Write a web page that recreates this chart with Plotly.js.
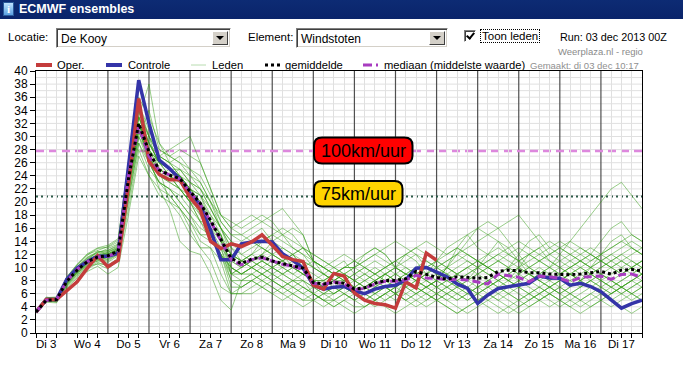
<!DOCTYPE html>
<html><head><meta charset="utf-8">
<script src="https://cdn.plot.ly/plotly-3.0.1.min.js"></script>
<style>
html,body{margin:0;padding:0;background:#fff;width:683px;height:367px;overflow:hidden;font-family:"Liberation Sans",Arial,sans-serif;}
#chart{position:absolute;left:0;top:0;width:683px;height:367px;z-index:1;}
#hdr{position:absolute;left:0;top:0;width:683px;height:60px;z-index:2;}
#bar{position:absolute;left:0;top:0;width:683px;height:19px;background:linear-gradient(to bottom,#0d2b74,#0a246a);}
#bar .ico{position:absolute;left:3px;top:2px;width:11px;height:14px;background:linear-gradient(#bfe3ff,#5aa0e0);border:1px solid #2a5a9a;box-sizing:border-box;color:#fff;font:bold 11px "Liberation Serif",serif;text-align:center;line-height:13px;}
#bar .tt{position:absolute;left:19px;top:2px;color:#fff;font:bold 12.5px "Liberation Sans",Arial,sans-serif;}
.ui{position:absolute;font-size:11px;color:#000;white-space:nowrap;font-family:"Liberation Sans",Arial,sans-serif;}
.dd{position:absolute;box-sizing:border-box;height:20px;border:1px solid;border-color:#808080 #fff #fff #808080;background:#fff;box-shadow:inset 1px 1px 0 #404040,inset -1px -1px 0 #d4d0c8;}
.dd span{position:absolute;left:4px;top:3px;font-size:12px;font-family:"Liberation Sans",Arial,sans-serif;}
.btn{position:absolute;right:2px;top:2px;width:16px;height:14px;background:#d4d0c8;border:1px solid;border-color:#fff #404040 #404040 #fff;box-sizing:border-box;}
.btn:after{content:"";position:absolute;left:3px;top:4px;border-left:4px solid transparent;border-right:4px solid transparent;border-top:4px solid #000;}
.cb{position:absolute;left:464px;top:30px;width:12px;height:12px;box-sizing:border-box;background:#fff;border:1px solid;border-color:#808080 #fff #fff #808080;box-shadow:inset 1px 1px 0 #404040;}
.cb:after{content:"";position:absolute;left:3px;top:0px;width:3px;height:6px;border:solid #000;border-width:0 2px 2px 0;transform:rotate(40deg);}
</style>
</head><body>
<div id="chart"></div>
<div id="hdr">
  <div id="bar"><div class="ico">i</div><div class="tt">ECMWF ensembles</div></div>
  <div class="ui" style="left:8px;top:31px;font-size:11.5px;">Locatie:</div>
  <div class="dd" style="left:56px;top:28px;width:175px;"><span>De Kooy</span><div class="btn"></div></div>
  <div class="ui" style="left:248px;top:31px;font-size:11.5px;">Element:</div>
  <div class="dd" style="left:296px;top:28px;width:152px;"><span>Windstoten</span><div class="btn"></div></div>
  <div class="cb"></div>
  <div class="ui" style="left:480px;top:29px;border:1px dotted #000;padding:0 1px;font-size:11.5px;">Toon leden</div>
  <div class="ui" style="left:560px;top:31px;font-size:10.8px;">Run: 03 dec 2013 00Z</div>
  <div class="ui" style="left:558px;top:46px;font-size:9.5px;color:#8a8a8a;">Weerplaza.nl - regio</div>
</div>
<script>
// ---- data ----
const hours = [6,12,18,24,30,36,42,48,54,60,66,72,78,84,90,96,102,108,114,120,126,132,138,144,150,156,162,168,174,180,186,192,198,204,210,216,222,228,234,240,246,252,258,264,270,276,282,288,294,300,306,312,318,324,330,336,342,348,354,360];
const dayTickHours = [12,36,60,84,108,132,156,180,204,228,252,276,300,324,348];
const dayLabels = ["Di 3","Wo 4","Do 5","Vr 6","Za 7","Zo 8","Ma 9","Di 10","Wo 11","Do 12","Vr 13","Za 14","Zo 15","Ma 16","Di 17"];
const dayBoundaryHours = [24,48,72,96,120,144,168,192,216,240,264,288,312,336];
const yGridValues = [1,2,3,4,5,6,7,8,9,10,11,12,13,14,15,16,17,18,19,20,21,22,23,24,25,26,27,28,29,30,31,32,33,34,35,36,37,38,39];
const threshold100 = 27.78; // 100 km/uur in m/s
const threshold75 = 20.83;  // 75 km/uur in m/s

const oper = [3.2,5.1,5.1,6.4,7.8,9.9,11.8,10.1,11.1,22.5,35.8,26.2,24.2,23.4,23.4,20.7,18.8,14.0,12.9,13.6,13.2,13.9,15.0,13.4,11.7,11.2,10.9,7.3,6.7,9.1,8.7,6.1,5.0,4.5,4.3,3.8,7.8,6.9,12.2,11.1];
const controle = [3.2,5.1,5.1,8.2,9.9,10.9,11.7,11.7,12.2,25.0,38.6,32.0,26.4,25.1,23.5,21.3,19.5,15.7,11.2,11.2,13.6,13.9,14.0,13.9,12.1,11.1,9.9,7.3,6.7,7.0,7.1,6.4,6.0,6.7,7.1,7.3,8.1,9.9,10.0,9.3,8.6,7.5,6.8,4.5,5.8,6.8,7.1,7.3,7.6,8.7,8.4,8.35,7.3,7.6,7.1,6.3,5.0,3.8,4.5,5.0];
const gemiddelde = [3.2,5.0,5.1,7.9,9.6,10.9,11.6,11.8,12.5,23.5,32.0,27.7,24.9,24.1,23.6,21.6,19.8,17.2,14.3,11.4,10.6,11.3,11.6,11.0,10.6,10.3,9.9,7.7,7.5,7.7,7.6,6.7,6.9,7.6,8.0,8.0,8.3,9.4,8.9,8.5,8.2,8.6,8.5,8.35,8.5,9.4,9.6,9.5,9.2,9.2,9.0,8.9,8.9,9.0,9.2,9.4,9.0,9.6,9.7,9.5];
const mediaan = [3.2,5.0,5.1,7.9,9.7,10.9,11.6,11.7,12.4,24.0,31.5,27.0,24.8,24.2,23.5,21.5,19.6,17.0,14.0,11.2,10.4,11.2,11.5,11.0,10.5,10.2,9.7,7.6,7.4,7.8,7.5,6.6,6.8,7.5,7.9,7.9,8.1,8.8,8.4,8.35,8.1,8.2,8.1,7.8,7.5,9.0,8.75,8.5,7.8,8.7,8.6,8.35,7.8,8.5,8.6,8.7,8.2,8.95,9.0,8.5];

const leden01 = [3.2,5.2,5.0,7.5,9.2,10.5,11.0,11.6,12.8,24,33,29,26,25,24,22,20,18,15,12,11,12,13,12,11,10,9,8,7,8,9,8,7,6,7,8,9,10,11,10,9,8,9,10,11,12,11,10,9,8,9,10,11,12,13,12,11,10,9,10];
const leden02 = [3.3,4.8,5.3,8.2,10.1,11.4,12.2,12.9,13.6,22,30,27,24,23,22,20,19,16,15,10,9,10,11,10,9,8,8,7,6,6,7,6,5,6,7,6,8,9,8,7,6,5,6,7,8,7,6,5,4,5,6,7,8,9,8,7,6,7,8,9];
const leden03 = [3.1,5.4,5.5,8.5,10.5,12.0,12.6,13.2,14.2,26,35,31,27,26,27,25,23,20,17,15,14,15,16,14,13,12,10,8,8,9,10,10,9,8,9,10,11,12,10,9,8,7,8,10,12,14,13,11,9,8,7,6,7,8,10,12,14,15,13,12];
const leden04 = [3.2,5.0,4.8,7.2,8.8,10.0,10.8,10.2,11.5,20,29,25,23,22,20,18,15,14,12,7,7,8,9,8,7,6,5,5,4,5,6,5,4,5,6,7,6,5,4,5,6,7,6,5,4,3,4,5,6,7,6,5,4,5,6,7,8,7,6,5];
const leden05 = [3.4,5.1,5.2,8.0,9.8,11.2,12.5,12.0,13.0,25,34,30,25,24,25,23,21,19,16,13,12,13,14,15,14,13,12,11,10,9,10,11,12,13,12,10,9,8,9,11,13,14,15,13,12,11,10,9,10,11,12,13,12,11,10,11,12,13,14,13];
const leden06 = [3.0,4.7,4.6,6.9,8.4,9.4,10.2,9.0,10.0,18,27,24,22,21,19,17,14,13,9,6,6,7,8,7,6,7,8,6,5,4,5,4,4,5,6,5,6,7,6,5,4,3,4,5,6,7,8,7,6,5,6,7,6,5,6,5,4,5,6,7];
const leden07 = [3.2,5.0,5.1,7.8,9.5,10.8,11.5,11.9,12.4,23,32,28,25,24,23,21,19,17,14,11,10,11,12,13,12,10,9,8,9,10,11,9,8,7,9,10,12,11,9,8,10,11,12,11,10,9,8,10,12,13,11,10,9,8,9,10,11,12,11,10];
const leden08 = [3.3,5.3,5.4,8.4,10.3,11.9,12.9,13.1,13.9,26,36,33,29,27,28,27,26,22,18,16,17,18,17,16,15,13,12,10,9,8,9,8,7,8,9,8,7,6,7,8,10,12,14,16,17,16,14,12,10,9,8,9,10,11,12,14,16,17,15,14];
const leden09 = [3.1,4.9,4.9,7.6,9.2,10.6,11.2,11.0,12.0,23,31,27,24,25,24,22,20,17,15,10,9,9,10,11,10,9,8,7,6,7,8,7,6,5,6,7,8,9,10,9,8,9,10,11,10,9,10,11,12,11,10,9,8,7,8,9,10,11,10,9];
const leden10 = [3.2,5.1,5.2,7.9,9.9,11.0,11.8,12.4,12.9,24,32,28,26,24,22,21,18,16,14,9,10,11,10,9,8,7,6,5,6,7,6,5,6,7,8,9,8,7,8,9,10,9,8,7,6,5,6,7,8,9,8,7,6,5,4,5,6,7,8,9];
const leden11 = [3.2,5.2,5.3,8.1,9.9,11.3,11.9,12.3,13.2,25,33,30,27,26,25,24,22,19,16,14,13,14,13,12,11,12,13,11,10,9,8,9,10,11,10,9,8,7,6,7,8,7,6,7,8,9,10,12,14,15,13,12,11,10,11,12,13,14,15,14];
const leden12 = [3.3,5.0,5.0,7.7,9.6,10.7,11.4,11.5,12.2,22,31,26,23,22,21,19,17,17,15,9,8,9,8,9,10,11,10,8,7,6,7,6,7,8,7,6,5,6,7,8,7,6,5,6,7,8,9,8,7,6,5,4,5,6,7,8,7,6,5,6];
const leden13 = [3.1,4.8,5.0,7.4,9.1,10.4,11.3,11.8,12.6,21,30,34,28,27,26,24,23,20,16,13,11,10,11,12,13,12,10,9,8,9,10,11,10,9,8,7,8,9,10,11,12,13,12,11,10,9,8,7,8,9,10,11,12,13,12,11,10,9,10,11];
const leden14 = [3.2,5.1,5.0,7.9,9.6,10.9,11.6,11.7,12.5,24,32,27,25,20,19,16,13,11,7,6,7,8,7,6,5,6,7,6,5,4,5,6,7,8,9,10,9,8,7,6,5,4,3,4,5,6,5,4,5,6,7,8,9,8,7,6,5,6,7,8];
const leden15 = [3.2,5.2,5.1,8.0,9.8,11.1,11.6,12.1,12.7,24,33,38,29,26,24,22,21,18,16,14,12,11,12,14,15,16,15,11,9,8,9,10,12,13,12,10,9,8,7,8,10,13,15,16,15,14,12,11,10,9,10,12,14,16,18,20,22,23,21,19];
const leden16 = [3.1,5.0,4.7,7.3,8.9,10.2,10.5,9.8,11.0,19,28,24,21,20,18,15,13,13,11,6,6,6,7,8,7,6,5,6,7,8,7,6,5,4,5,6,7,6,5,6,7,8,7,6,5,4,3,4,5,6,7,6,5,4,5,6,5,4,3,4];
const leden17 = [3.3,5.1,5.3,8.3,10.0,11.6,12.4,12.6,13.5,25,34,30,27,28,29,30,26,22,18,17,16,17,18,17,15,14,13,12,11,10,9,10,11,12,13,14,13,12,11,10,9,8,9,10,11,12,13,14,13,12,11,10,9,8,9,10,11,12,13,12];
const leden18 = [3.2,4.9,5.2,7.7,9.4,10.6,11.4,11.2,12.0,23,31,27,24,23,22,20,18,15,12,10,9,10,9,8,9,10,9,8,7,8,9,8,9,10,9,8,9,10,9,8,9,10,11,10,9,8,7,8,9,10,9,8,9,10,9,8,9,10,11,10];
const leden19 = [3.2,5.0,5.1,7.8,9.4,10.8,11.2,11.9,12.4,23,32,27,22,19,14,12.5,12,9,5,3.5,8,9,8,7,6,5,4,5,6,5,4,3,4,5,4,3,4,5,6,5,4,3,4,5,6,5,4,3,4,5,6,5,4,3,4,5,6,7,6,5];
const leden20 = [3.2,5.1,5.0,7.8,9.7,10.8,11.6,11.9,12.6,24,32,28,25,24,23,21,19,16,13,11,10,11,12,11,10,9,10,11,10,9,8,7,8,9,10,11,12,13,12,11,10,9,8,9,10,11,12,13,12,11,10,9,10,11,12,11,10,9,10,11];
const leden21 = [3.4,5.5,5.2,8.6,10.4,12.1,13.0,13.4,14.4,26,35,30,28,27,26,25,24,21,17,15,15,16,17,18,19,17,15,11,10,11,12,11,10,9,10,11,12,13,14,13,12,13,12,11,10,9,8,9,10,11,12,13,14,13,12,11,10,11,12,13];
const leden22 = [3.1,4.9,4.8,7.1,8.6,9.8,10.6,10.4,11.3,20,29,26,23,21,19,17,15,15,12,8,8,8,9,10,9,8,7,6,5,5,6,7,6,5,6,7,8,7,6,5,6,7,8,9,10,11,10,9,8,7,6,5,6,7,8,9,8,7,6,7];
const leden23 = [3.2,5.0,5.0,7.6,9.3,10.7,11.4,11.3,12.1,22,31,27,25,24,22,20,17,14,13,9,9,10,11,10,9,10,11,10,9,8,7,6,7,6,5,6,7,8,9,10,11,12,11,10,9,8,7,6,5,6,7,8,9,10,9,8,7,6,7,8];
const leden24 = [3.2,5.2,5.1,8.0,9.7,11.0,11.9,12.0,12.9,24,33,28,26,25,25,23,22,19,16,12,11,12,11,10,11,12,11,10,9,8,8,9,10,9,8,7,8,9,10,11,10,9,10,11,12,13,12,11,12,13,14,13,12,11,10,9,8,9,10,9];
const leden25 = [3.3,5.0,5.2,7.9,9.6,11.0,11.7,12.2,12.6,24,32,29,26,25,23,21,19,15,12,10,9,10,9,8,7,8,9,8,7,6,7,8,9,8,7,6,5,4,5,6,7,8,7,6,7,8,9,10,9,8,7,6,7,8,9,8,7,8,9,10];
const leden26 = [3.1,4.9,5.0,7.7,9.4,10.7,11.3,11.6,12.3,23,31,27,24,24,24,22,20,17,14,12,11,12,14,15,16,15,13,11,10,9,8,7,8,9,10,11,10,9,8,7,8,9,10,9,8,7,6,5,6,7,8,9,10,11,10,9,8,7,8,9];
const leden27 = [3.2,5.1,5.3,8.1,9.9,11.1,12.0,12.5,13.0,25,33,29,27,26,24,22,21,17,14,12,11,10,9,10,11,12,13,12,11,10,9,8,7,8,9,8,7,8,9,10,11,12,13,14,15,16,17,18,16,14,12,11,10,9,10,11,12,11,10,11];
const leden28 = [3.2,5.0,4.9,7.5,9.1,10.3,11.0,10.8,11.8,21,30,26,23,22,20,18,16,15,13,8,7,8,7,6,7,8,7,6,5,6,7,6,5,6,7,6,5,6,7,8,7,6,7,8,7,6,7,8,9,8,7,8,9,8,7,6,7,8,9,8];
const leden29 = [3.3,5.3,5.4,8.3,10.1,11.5,12.3,12.6,13.3,25,34,29,26,25,24,23,22,20,18,16,15,14,13,12,11,10,9,8,8,9,10,10,11,12,11,10,9,8,7,6,5,6,5,6,7,8,9,10,11,12,13,14,13,12,11,12,13,14,13,12];
const leden30 = [3.2,5.1,5.2,7.9,9.6,10.9,11.5,11.8,12.5,23,32,29,26,24,22,20,17,15,12,9,10,11,10,9,8,7,6,7,8,7,6,5,6,7,8,9,10,9,8,7,6,5,6,7,8,9,8,7,6,5,4,5,6,7,8,7,6,7,8,7];
const leden = [leden01,leden02,leden03,leden04,leden05,leden06,leden07,leden08,leden09,leden10,leden11,leden12,leden13,leden14,leden15,leden16,leden17,leden18,leden19,leden20,leden21,leden22,leden23,leden24,leden25,leden26,leden27,leden28,leden29,leden30];

// ---- style ----
const C = {oper:'#c43c3c', ctrl:'#3434a8', leden:'rgba(50,155,20,0.5)', mean:'#000000', med:'#a83cc0', t100:'#dd88dd', t75:'#2c5a48', grid:'#e0e0e0'};
const FONT = '"Liberation Sans",Arial,sans-serif';
const PL=36, PR=642, PT=71, PB=333;
const px = v => (v-PL)/(PR-PL);
const py = v => (PB-v)/(PB-PT);
// 6-hourly light grid positions that are not day boundaries
const sixHourGrid = hours.filter(h => dayBoundaryHours.indexOf(h) < 0);

const traces = [];
leden.forEach(m => traces.push({x:hours.slice(0,m.length), y:m, type:'scatter', mode:'lines', line:{color:C.leden, width:1}, hoverinfo:'skip', showlegend:false}));
traces.push({x:hours.slice(0,controle.length), y:controle, type:'scatter', mode:'lines', name:'Controle', line:{color:C.ctrl, width:3.5}});
traces.push({x:hours.slice(0,oper.length), y:oper, type:'scatter', mode:'lines', name:'Oper.', line:{color:C.oper, width:3.5}});
traces.push({x:hours, y:mediaan, type:'scatter', mode:'lines', name:'mediaan (middelste waarde)', line:{color:C.med, width:3, dash:'8px,4px'}});
traces.push({x:hours, y:gemiddelde, type:'scatter', mode:'lines', name:'gemiddelde', line:{color:C.mean, width:3, dash:'3px,3px'}});

function rrect(x0,y0,x1,y1,r){
  const P=(x,y)=>px(x)+','+py(y);
  return 'M'+P(x0+r,y0)+' L'+P(x1-r,y0)+' Q'+P(x1,y0)+' '+P(x1,y0+r)+' L'+P(x1,y1-r)+' Q'+P(x1,y1)+' '+P(x1-r,y1)+
         ' L'+P(x0+r,y1)+' Q'+P(x0,y1)+' '+P(x0,y1-r)+' L'+P(x0,y0+r)+' Q'+P(x0,y0)+' '+P(x0+r,y0)+' Z';
}

const shapes = [];
yGridValues.forEach(v => shapes.push({type:'line', xref:'paper', yref:'y', x0:0, x1:1, y0:v, y1:v, line:{color:C.grid, width:1}, layer:'below'}));
dayBoundaryHours.forEach(h => shapes.push({type:'line', xref:'x', yref:'paper', x0:h, x1:h, y0:0, y1:1, line:{color:'#505050', width:1.2}, layer:'below'}));
shapes.push({type:'line', xref:'paper', yref:'y', x0:0, x1:1, y0:threshold100, y1:threshold100, line:{color:C.t100, width:2.5, dash:'8px,5px'}, layer:'below'});
shapes.push({type:'line', xref:'paper', yref:'y', x0:0, x1:1, y0:threshold75, y1:threshold75, line:{color:C.t75, width:2, dash:'2px,3px'}, layer:'below'});
shapes.push({type:'path', xref:'paper', yref:'paper', path:rrect(314,137.5,412.5,163.5,8), fillcolor:'#ff0000', line:{color:'#000', width:2}, layer:'above'});
shapes.push({type:'path', xref:'paper', yref:'paper', path:rrect(314,181,402.5,206.5,8), fillcolor:'#ffd400', line:{color:'#000', width:2}, layer:'above'});
// legend swatches
const LY = py(65);
shapes.push({type:'line', xref:'paper', yref:'paper', x0:px(36), x1:px(52), y0:LY, y1:LY, line:{color:C.oper, width:4}});
shapes.push({type:'line', xref:'paper', yref:'paper', x0:px(106), x1:px(122), y0:LY, y1:LY, line:{color:C.ctrl, width:4}});
shapes.push({type:'line', xref:'paper', yref:'paper', x0:px(191), x1:px(206), y0:LY, y1:LY, line:{color:'#b8dcb0', width:1}});
shapes.push({type:'line', xref:'paper', yref:'paper', x0:px(265), x1:px(280), y0:LY, y1:LY, line:{color:C.mean, width:3, dash:'3px,3px'}});
shapes.push({type:'line', xref:'paper', yref:'paper', x0:px(363), x1:px(379), y0:LY, y1:LY, line:{color:C.med, width:3, dash:'9px,4px,2px,4px'}});

const ann = [];
const legItems = [['Oper.',55],['Controle',126],['Leden',210],['gemiddelde',283],['mediaan (middelste waarde)',382]];
legItems.forEach(([t,x]) => ann.push({xref:'paper', yref:'paper', x:px(x), y:LY, text:t, showarrow:false, xanchor:'left', yanchor:'middle', font:{family:FONT, size:11.2, color:'#000'}}));
ann.push({xref:'paper', yref:'paper', x:px(641), y:LY, text:'Gemaakt: di 03 dec 10:17', showarrow:false, xanchor:'right', yanchor:'middle', font:{family:FONT, size:9.5, color:'#909090'}});
ann.push({xref:'paper', yref:'paper', x:px(363.5), y:py(150.5), text:'100km/uur', showarrow:false, xanchor:'center', yanchor:'middle', font:{family:FONT, size:18, color:'#000'}});
ann.push({xref:'paper', yref:'paper', x:px(358.5), y:py(194), text:'75km/uur', showarrow:false, xanchor:'center', yanchor:'middle', font:{family:FONT, size:18, color:'#000'}});

const layout = {
  width:683, height:367,
  margin:{l:PL, r:683-PR, t:PT, b:367-PB, pad:0},
  paper_bgcolor:'rgba(0,0,0,0)', plot_bgcolor:'#ffffff',
  showlegend:false,
  font:{family:FONT, size:12, color:'#000'},
  xaxis:{range:[6,360], tickmode:'array', tickvals:dayTickHours, ticktext:dayLabels, ticks:'', 
         showgrid:false, zeroline:false, showline:true, linecolor:'#000', linewidth:1, mirror:true,
         tickfont:{family:FONT, size:11.5, color:'#000'},
         minor:{tickmode:'array', tickvals:sixHourGrid, ticks:'outside', ticklen:4, tickcolor:'#000', showgrid:true, gridcolor:C.grid, gridwidth:1}},
  yaxis:{range:[0,40], tickmode:'linear', tick0:0, dtick:2, ticks:'outside', ticklen:5, tickcolor:'#000',
         showgrid:false, zeroline:false, showline:true, linecolor:'#000', linewidth:1, mirror:true,
         tickfont:{family:FONT, size:12, color:'#000'}},
  shapes:shapes, annotations:ann
};
Plotly.newPlot('chart', traces, layout, {staticPlot:true, displayModeBar:false});
</script>
</body></html>
